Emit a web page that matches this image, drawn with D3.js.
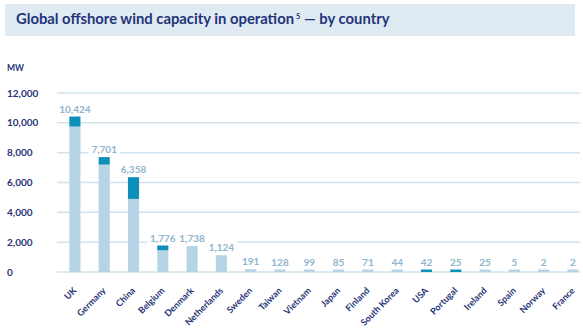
<!DOCTYPE html>
<html><head><meta charset="utf-8">
<script src="https://cdn.jsdelivr.net/npm/d3@7"></script>
<style>body{margin:0;background:#fff}svg{display:block}</style>
</head><body>
<svg id="c" width="583" height="331"></svg>
<script>
const countries = ["UK","Germany","China","Belgium","Denmark","Netherlands","Sweden","Taiwan","Vietnam","Japan","Finland","South Korea","USA","Portugal","Ireland","Spain","Norway","France"];
const totals    = [10424,7701,6358,1776,1738,1124,191,128,99,85,71,44,42,25,25,5,2,2];
const lightPart = [9750,7200,4900,1460,1738,1124,191,128,99,85,71,44,0,0,25,5,2,2];
const darkPart  = [674,501,1458,316,0,0,0,0,0,0,0,0,42,25,0,0,0,0];
const yTicks    = [0,2000,4000,6000,8000,10000,12000];

const svg = d3.select("#c");
const navy = "#1f3478";
const lightC = "#b6d4e5", darkC = "#0e8fb9", gridC = "#d2e3ee", labC = "#8fb5cc";

// title band
svg.append("rect").attr("x",5).attr("y",4).attr("width",570).attr("height",32).attr("fill","#dfeaf3");
const t = svg.append("text").attr("x",16).attr("y",24).attr("fill",navy)
  .attr("font-family","Lato, sans-serif").attr("font-weight",700).attr("font-size",14.8);
t.append("tspan").text("Global offshore wind capacity in operation");
t.append("tspan").text("5").attr("font-size",7.5).attr("dy",-5).attr("dx",2);
t.append("tspan").text(" \u2014 by country").attr("dy",5);

const y = d3.scaleLinear().domain([0,12000]).range([272,93]);
const x = d3.scaleBand().domain(countries).range([60.25,587.65]).paddingInner(0.62).paddingOuter(0.31);

// grid
svg.append("g").selectAll("line").data(yTicks).join("line")
  .attr("x1",57).attr("x2",580).attr("y1",d=>y(d)).attr("y2",d=>y(d))
  .attr("stroke",gridC).attr("stroke-width",1.5);

// y labels
svg.append("text").attr("x",7).attr("y",71).text("MW").attr("fill",navy)
  .attr("font-family","Lato, sans-serif").attr("font-weight",700).attr("font-size",8.5);
svg.append("g").selectAll("text").data(yTicks).join("text")
  .attr("x",7).attr("y",d=>y(d)).attr("dy","0.35em")
  .text(d=>d3.format(",")(d)).attr("fill",navy)
  .attr("font-family","Lato, sans-serif").attr("font-weight",700).attr("font-size",10);

const minH = 2.5;
const data = countries.map((c,i)=>({c,total:totals[i],light:lightPart[i],dark:darkPart[i]}));
const bars = svg.append("g");
data.forEach(d=>{
  const x0 = x(d.c), w = x.bandwidth();
  const base = y(0);
  if (d.light>0){
    const h = Math.max(minH, base - y(d.light));
    bars.append("rect").attr("x",x0).attr("width",w).attr("y",base-h).attr("height",h).attr("fill",lightC);
  }
  if (d.dark>0){
    const lo = y(d.light);
    const h = Math.max(minH, lo - y(d.light+d.dark));
    bars.append("rect").attr("x",x0).attr("width",w).attr("y",lo-h).attr("height",h).attr("fill",darkC);
  }
});

// value labels with white background
const lg = svg.append("g");
data.forEach(d=>{
  const top = Math.min(y(d.total), y(0)-minH);
  const cx = x(d.c)+x.bandwidth()/2;
  const tx = lg.append("text").attr("x",cx).attr("y",top-4).attr("text-anchor","middle")
    .text(d3.format(",")(d.total)).attr("fill",labC)
    .attr("font-family","Lato, sans-serif").attr("font-weight",700).attr("font-size",10);
  const bb = tx.node().getBBox();
  lg.insert("rect","text").attr("x",bb.x-3).attr("y",bb.y).attr("width",bb.width+6).attr("height",bb.height).attr("fill","#fff");
});

// x labels
svg.append("g").selectAll("text").data(countries).join("text")
  .attr("transform",d=>`translate(${x(d)+x.bandwidth()/2},${289}) rotate(-45)`)
  .attr("text-anchor","end").attr("dy","0.35em")
  .text(d=>d).attr("fill",navy)
  .attr("font-family","Lato, sans-serif").attr("font-weight",700).attr("font-size",9);
</script>
</body></html>
